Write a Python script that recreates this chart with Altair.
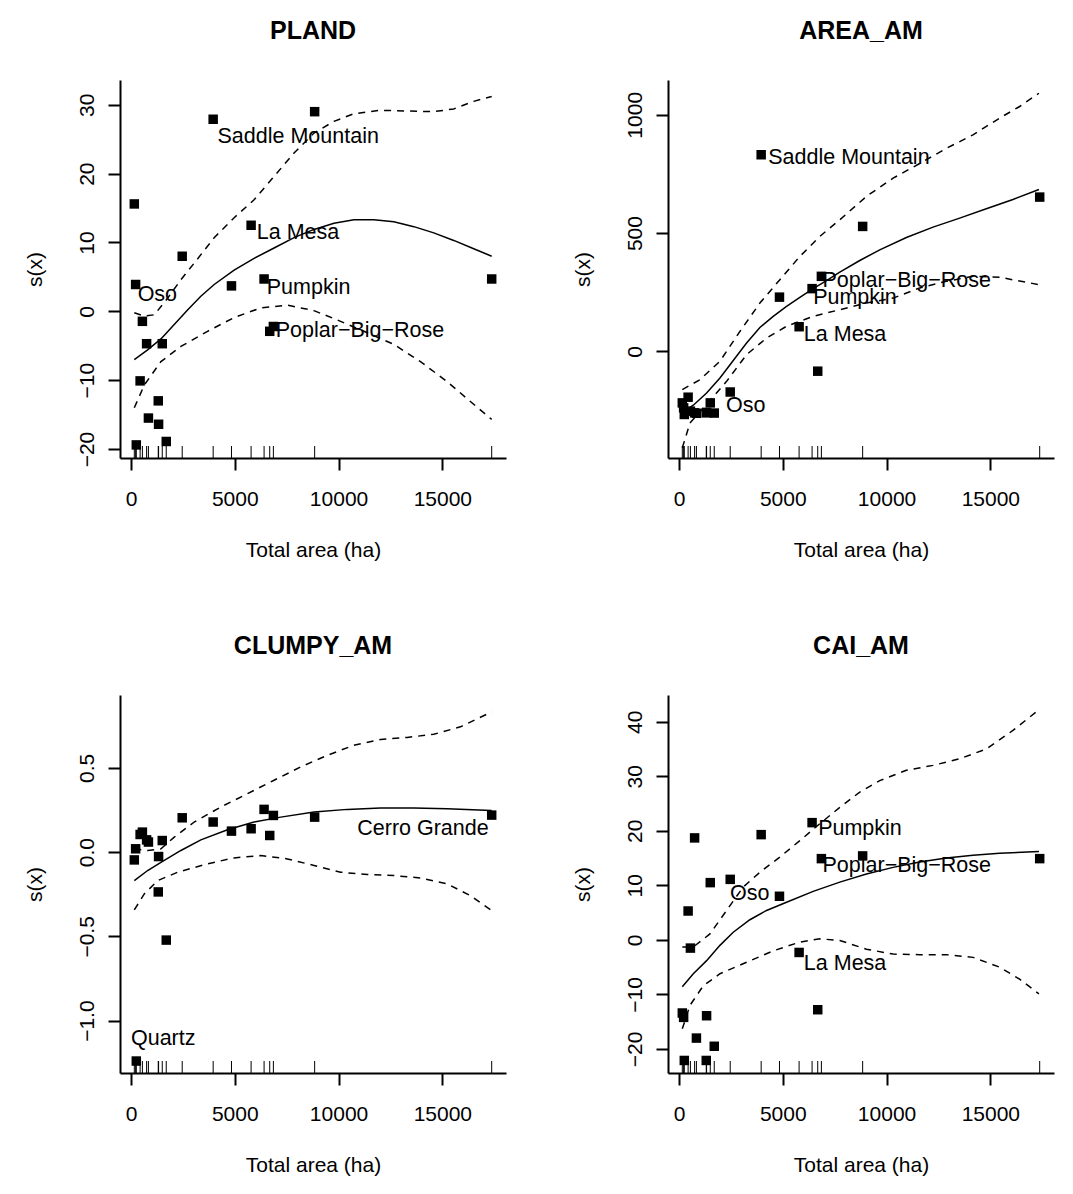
import altair as alt
import pandas as pd

FONT = "Liberation Sans"

# Shared x values: total area (ha) of the 20 sites (also drawn as rug)
AREA = [160, 224, 256, 440, 550, 753, 840, 1314, 1330, 1507, 1699, 2468,
        3959, 4841, 5787, 6412, 6684, 6860, 8848, 17377]

# Partial residuals per panel (same order as AREA)
PLAND_PTS = [15.6, 3.9, -19.4, -10.1, -1.45, -4.7, -15.5, -13.0, -16.4, -4.7, -18.9, 8.0,
             27.9, 3.7, 12.5, 4.7, -2.9, -2.2, 29.0, 4.7]
AREA_AM_PTS = [-218, -239, -267, -194, -253, -260, -262, -260, -258, -218, -261, -172,
               831, 229, 104, 265, -84, 317, 528, 652]
CLUMPY_PTS = [-0.046, 0.020, -1.24, 0.105, 0.119, 0.073, 0.060, -0.236, -0.026, 0.069, -0.522, 0.204,
              0.179, 0.125, 0.139, 0.254, 0.099, 0.218, 0.208, 0.220]
CAI_PTS = [-13.4, -14.2, -22.1, 5.3, -1.5, 18.7, -18.0, -22.1, -13.9, 10.5, -19.5, 11.1,
           19.3, 8.0, -2.3, 21.5, -12.8, 14.9, 15.4, 14.9]

# Smooth fits and confidence bands
PLAND_FIT_X = [160, 802, 1443, 2084, 2725, 3366, 4008, 4969, 5931, 6893, 7855, 8817, 9778,
               10740, 11702, 12664, 13626, 14587, 15549, 16511, 17377]
PLAND_FIT = [-7.0, -5.6, -4.0, -1.9, 0.2, 2.2, 3.9, 6.0, 7.7, 9.2, 10.7, 11.9, 12.8,
             13.3, 13.3, 13.0, 12.3, 11.4, 10.3, 9.1, 8.0]
PLAND_UP_X = [160, 641, 1122, 1763, 2405, 3046, 4008, 4969, 5931, 6893, 7855, 8817, 9778,
              10740, 12023, 13305, 14587, 15549, 16511, 17377]
PLAND_UP = [-0.2, -0.7, -0.5, 1.9, 4.6, 7.0, 10.7, 13.6, 16.2, 19.6, 23.0, 25.9, 27.6,
            28.7, 29.2, 29.1, 29.0, 29.4, 30.5, 31.2]
PLAND_LO_X = [160, 641, 1443, 2405, 3687, 4969, 6252, 7534, 8817, 10099, 11381, 12664,
              13946, 15229, 16351, 17377]
PLAND_LO = [-14.0, -10.7, -7.3, -5.1, -2.9, -0.9, 0.5, 0.9, 0.1, -1.45, -3.1, -4.8,
            -7.3, -10.2, -13.1, -15.7]

AREA_FIT_X = [160, 690, 1331, 1973, 2615, 3256, 3898, 4539, 5181, 5823, 6464, 7106, 7747,
              8710, 9672, 10955, 12239, 13522, 14805, 16088, 17339]
AREA_FIT = [-258, -228, -176, -113, -39, 35, 101, 148, 190, 228, 265, 299, 335,
            384, 429, 481, 525, 563, 603, 642, 684]
AREA_UP_X = [160, 1011, 1973, 2935, 3898, 4860, 5823, 6785, 7747, 9030, 10314, 11597,
             12880, 14163, 15446, 16409, 17339]
AREA_UP = [-162, -120, -42, 84, 204, 303, 401, 486, 556, 655, 732, 794,
           858, 915, 986, 1035, 1091]
AREA_LO_X = [160, 529, 1331, 2294, 3256, 4219, 5181, 6464, 7747, 9030, 10314, 11597,
             12880, 14163, 15446, 17339]
AREA_LO = [-408, -303, -225, -127, -14, 56, 106, 148, 176, 204, 225, 268,
           296, 317, 313, 282]

CLUMPY_FIT_X = [160, 802, 1443, 2405, 3366, 4649, 5931, 7214, 8817, 10420, 12023, 13626,
                15229, 17377]
CLUMPY_FIT = [-0.169, -0.109, -0.060, 0.010, 0.073, 0.133, 0.179, 0.208, 0.238, 0.254,
              0.262, 0.262, 0.258, 0.248]
CLUMPY_UP_X = [160, 802, 1443, 2084, 3046, 4328, 5610, 6893, 8175, 9458, 10740, 12023,
               13305, 14587, 15870, 17377]
CLUMPY_UP = [0.02, 0.01, 0.02, 0.089, 0.179, 0.268, 0.347, 0.427, 0.506, 0.575, 0.635,
             0.669, 0.681, 0.700, 0.744, 0.833]
CLUMPY_LO_X = [160, 641, 1282, 2244, 3687, 4969, 6252, 7534, 8817, 10099, 11381, 12664,
               13946, 15229, 16351, 17377]
CLUMPY_LO = [-0.343, -0.248, -0.169, -0.119, -0.069, -0.034, -0.020, -0.040, -0.079,
             -0.119, -0.133, -0.139, -0.153, -0.188, -0.258, -0.347]

CAI_FIT_X = [160, 690, 1331, 1973, 2614, 3416, 4219, 5181, 6464, 7747, 9030, 10314, 11597,
             12880, 14163, 15446, 17340]
CAI_FIT = [-8.6, -6.2, -3.8, -1.0, 1.4, 3.7, 5.4, 6.9, 8.9, 10.6, 12.1, 13.3, 14.3,
           15.0, 15.5, 15.9, 16.2]
CAI_UP_X = [160, 690, 1492, 2294, 3096, 3898, 4860, 5823, 6785, 7747, 8710, 9672, 10955,
            12239, 13522, 14805, 16088, 17340]
CAI_UP = [-1.3, -1.3, 1.1, 5.4, 9.7, 12.4, 15.2, 18.2, 21.3, 24.3, 27.1, 29.2, 31.1,
          32.0, 33.2, 35.0, 38.4, 42.2]
CAI_LO_X = [160, 529, 1171, 1973, 3256, 4539, 5823, 6785, 7747, 9030, 10314, 11597,
            12880, 14163, 15446, 16409, 17340]
CAI_LO = [-16.3, -12.0, -8.4, -6.2, -4.1, -2.0, -0.4, 0.2, -0.1, -1.7, -2.6, -2.7,
          -2.7, -3.2, -5.0, -7.2, -9.9]

# Site name annotations (left edge x, centre y, in data units)
PLAND_LAB = ["Saddle Mountain", "La Mesa", "Oso", "Pumpkin", "Poplar\u2212Big\u2212Rose"]
PLAND_LAB_X = [4168, 6059, 321, 6540, 6973]
PLAND_LAB_Y = [25.3, 11.4, 2.4, 3.4, -2.8]
AREA_LAB = ["Saddle Mountain", "Poplar\u2212Big\u2212Rose", "Pumpkin", "La Mesa", "Oso"]
AREA_LAB_X = [4299, 6913, 6464, 6015, 2262]
AREA_LAB_Y = [817, 296, 225, 70, -232]
CLUMPY_LAB = ["Cerro Grande", "Quartz"]
CLUMPY_LAB_X = [10900, 0]
CLUMPY_LAB_Y = [0.139, -1.111]
CAI_LAB = ["Pumpkin", "Poplar\u2212Big\u2212Rose", "Oso", "La Mesa"]
CAI_LAB_X = [6705, 6913, 2454, 6015]
CAI_LAB_Y = [20.4, 13.5, 8.4, -4.5]

X_DOMAIN = [-529, 18066]
X_TICKS = [0, 5000, 10000, 15000]

W, H = 386, 378


def panel(title, pts, fx, fy, ux, uy, lx, ly, lab, labx, laby, ydom, yticks, yfmt):
    xaxis = alt.Axis(values=X_TICKS, format="d", title="Total area (ha)", grid=False,
                     tickSize=12, tickWidth=2, tickColor="black", domainWidth=2,
                     domainColor="black", labelFontSize=21, labelFont=FONT, labelColor="black",
                     labelPadding=18, labelFlush=False, labelOverlap=False,
                     titleFontSize=21, titleFont=FONT, titleFontWeight="normal",
                     titleColor="black", titleBaseline="alphabetic", titleY=98)
    yaxis = alt.Axis(values=yticks, format=yfmt, title="s(x)", grid=False,
                     tickSize=12, tickWidth=2, tickColor="black", domainWidth=2,
                     domainColor="black", labelFontSize=21, labelFont=FONT, labelColor="black",
                     labelAngle=270, labelAlign="center", labelBaseline="alphabetic",
                     labelPadding=14.7, labelFlush=False, labelOverlap=False,
                     titleFontSize=21, titleFont=FONT, titleFontWeight="normal",
                     titleColor="black", titleAngle=270, titleBaseline="alphabetic",
                     titleX=-78.5, titleY=H / 2)
    x = alt.X("area:Q", scale=alt.Scale(domain=X_DOMAIN, nice=False, zero=False), axis=xaxis)
    y = alt.Y("s:Q", scale=alt.Scale(domain=ydom, nice=False, zero=False), axis=yaxis)

    dpts = pd.DataFrame({"area": AREA, "s": pts})
    dfit = pd.DataFrame({"area": fx, "s": fy})
    dup = pd.DataFrame({"area": ux, "s": uy})
    dlo = pd.DataFrame({"area": lx, "s": ly})
    dlab = pd.DataFrame({"area": labx, "s": laby, "name": lab})

    rug = alt.Chart(dpts).mark_rule(color="black", strokeWidth=1).encode(
        x=x, y=alt.value(H - 12), y2=alt.value(H))
    up = alt.Chart(dup).mark_line(color="black", strokeWidth=1.5, strokeDash=[7, 6]).encode(x=x, y=y)
    lo = alt.Chart(dlo).mark_line(color="black", strokeWidth=1.5, strokeDash=[7, 6]).encode(x=x, y=y)
    fit = alt.Chart(dfit).mark_line(color="black", strokeWidth=1.5).encode(x=x, y=y)
    points = alt.Chart(dpts).mark_square(size=90, color="black", opacity=1).encode(x=x, y=y)
    text = alt.Chart(dlab).mark_text(align="left", baseline="middle", fontSize=21.5, font=FONT,
                                     color="black").encode(x=x, y=y, text="name:N")
    return alt.layer(rug, up, lo, fit, points, text).properties(
        width=W, height=H,
        title=alt.TitleParams(title, fontSize=25, fontWeight="bold", font=FONT, color="black",
                              anchor="middle", frame="group", baseline="alphabetic", offset=16))


p1 = panel("PLAND", PLAND_PTS, PLAND_FIT_X, PLAND_FIT, PLAND_UP_X, PLAND_UP, PLAND_LO_X, PLAND_LO,
           PLAND_LAB, PLAND_LAB_X, PLAND_LAB_Y, [-21.3, 33.6], [-20, -10, 0, 10, 20, 30], "d")
p2 = panel("AREA_AM", AREA_AM_PTS, AREA_FIT_X, AREA_FIT, AREA_UP_X, AREA_UP, AREA_LO_X, AREA_LO,
           AREA_LAB, AREA_LAB_X, AREA_LAB_Y, [-451, 1147], [0, 500, 1000], "d")
p3 = panel("CLUMPY_AM", CLUMPY_PTS, CLUMPY_FIT_X, CLUMPY_FIT, CLUMPY_UP_X, CLUMPY_UP,
           CLUMPY_LO_X, CLUMPY_LO, CLUMPY_LAB, CLUMPY_LAB_X, CLUMPY_LAB_Y,
           [-1.311, 0.933], [-1.0, -0.5, 0.0, 0.5], ".1f")
p4 = panel("CAI_AM", CAI_PTS, CAI_FIT_X, CAI_FIT, CAI_UP_X, CAI_UP, CAI_LO_X, CAI_LO,
           CAI_LAB, CAI_LAB_X, CAI_LAB_Y, [-24.4, 44.9], [-20, -10, 0, 10, 20, 30, 40], "d")

chart = alt.vconcat(
    alt.hconcat(p1, p2, spacing=66),
    alt.hconcat(p3, p4, spacing=66),
    spacing=74,
).properties(
    padding={"left": 16, "top": 11, "right": 5, "bottom": 5},
    background="white",
).configure_view(stroke=None)

chart.save("out.html", embed_options={"renderer": "svg", "actions": False})
